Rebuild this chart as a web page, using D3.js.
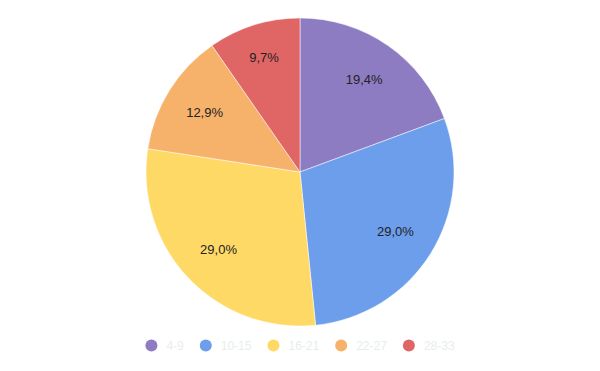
<!DOCTYPE html>
<html><head><meta charset="utf-8">
<script src="https://cdn.jsdelivr.net/npm/d3@7"></script>
<style>body{margin:0;background:#fff;}svg{display:block;}</style>
</head><body>
<svg id="c" width="600" height="371"></svg>
<script>
const categories = ["4-9","10-15","16-21","22-27","28-33"];
const values = [6, 9, 9, 4, 3];
const colors = ["#8e7cc3","#6d9eeb","#ffd966","#f6b26b","#e06666"];

const svg = d3.select("#c");
const cx = 300, cy = 172, r = 154;
const total = d3.sum(values);
const pie = d3.pie().sort(null).value(d => d)(values);
const arc = d3.arc().innerRadius(0).outerRadius(r);
const labelR = d => (d.data / total < 0.11 ? 0.78 : 0.73) * r;
const g = svg.append("g").attr("transform", `translate(${cx},${cy})`);
g.selectAll("path").data(pie).enter().append("path")
  .attr("d", arc).attr("fill", (d,i) => colors[i])
  .attr("stroke", "#fff").attr("stroke-width", 0.5);
const fmt = v => (v/total*100).toFixed(1).replace(".", ",") + "%";
g.selectAll("text").data(pie).enter().append("text")
  .attr("transform", d => {
    const lr = labelR(d);
    return `translate(${d3.arc().innerRadius(lr).outerRadius(lr).centroid(d)})`;
  })
  .attr("text-anchor", "middle").attr("dy", "0.35em")
  .attr("font-family", "Liberation Sans, Arial, sans-serif").attr("font-size", 13)
  .attr("fill", "#222").text(d => fmt(d.data));

// legend
const lg = svg.append("g");
let x = 0;
categories.forEach((c, i) => {
  const it = lg.append("g");
  it.append("circle").attr("cx", x + 6).attr("cy", 0).attr("r", 6).attr("fill", colors[i]);
  const t = it.append("text").attr("x", x + 21).attr("y", 0).attr("dy", "0.35em")
    .attr("font-family", "Liberation Sans, Arial, sans-serif").attr("font-size", 12)
    .attr("fill", "#e6eeec").text(c);
  const w = t.node().getComputedTextLength();
  x = x + 21 + w + 16;
});
const totalW = x - 16;
lg.attr("transform", `translate(${300 - totalW/2},345.5)`);
</script>
</body></html>
